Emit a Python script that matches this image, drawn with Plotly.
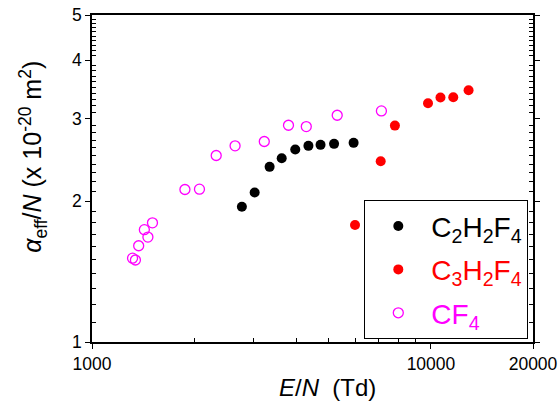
import plotly.graph_objects as go

# C2H2F4 (black filled)
c2_x = [2768, 3019, 3342, 3628, 3978, 4350, 4723, 5178, 5913]
c2_y = [1.945, 2.087, 2.368, 2.471, 2.579, 2.626, 2.639, 2.652, 2.665]

# C3H2F4 (red filled)
c3_x = [5970, 7108, 7828, 9801, 10667, 11636, 12912]
c3_y = [1.778, 2.435, 2.901, 3.239, 3.331, 3.336, 3.452]

# CF4 (magenta open)
cf_x = [1317, 1343, 1373, 1427, 1462, 1508, 1880, 2075, 2325, 2643, 3223, 3799, 4287, 5290, 7142]
cf_y = [1.511, 1.497, 1.606, 1.738, 1.676, 1.798, 2.118, 2.122, 2.504, 2.626, 2.683, 2.906, 2.887, 3.053, 3.119]

x_ticks = [1000, 10000, 20000]
x_minor = [2000, 3000, 4000, 5000, 6000, 7000, 8000, 9000]
y_ticks = [1, 2, 3, 4, 5]
y_minor = [1.1, 1.2, 1.3, 1.4, 1.5, 1.6, 1.7, 1.8, 1.9,
           2.1, 2.2, 2.3, 2.4, 2.5, 2.6, 2.7, 2.8, 2.9,
           3.1, 3.2, 3.3, 3.4, 3.5, 3.6, 3.7, 3.8, 3.9,
           4.1, 4.2, 4.3, 4.4, 4.5, 4.6, 4.7, 4.8, 4.9]

x_title = "<i>E</i>/<i>N</i>\u00a0 (Td)"
y_title = "<i>α</i><sub>eff</sub>/<i>N</i> (x 10<sup>-20</sup> m<sup>2</sup>)"

FONT = "Liberation Sans, Arial, sans-serif"

fig = go.Figure()
fig.add_trace(go.Scatter(
    x=c2_x, y=c2_y, mode="markers", legendgroup="a",
    name="C<sub>2</sub>H<sub>2</sub>F<sub>4</sub>",
    marker=dict(color="black", size=10, symbol="circle"),
))
fig.add_trace(go.Scatter(
    x=c3_x, y=c3_y, mode="markers", legendgroup="b",
    name='<span style="color:#ff0000">C<sub>3</sub>H<sub>2</sub>F<sub>4</sub></span>',
    marker=dict(color="#ff0000", size=10, symbol="circle"),
))
fig.add_trace(go.Scatter(
    x=cf_x, y=cf_y, mode="markers", legendgroup="c",
    name='<span style="color:#ff00ff">CF<sub>4</sub></span>',
    marker=dict(color="#ff00ff", size=10, symbol="circle-open", line=dict(width=1.3)),
))

axis_common = dict(
    type="log", showgrid=False, zeroline=False, automargin=False,
    showline=True, linecolor="black", linewidth=1.5,
    tickcolor="black", tickwidth=1.2, ticklen=5, ticks="outside",
    tickfont=dict(family=FONT, size=17.5, color="black"),
    ticklabeloverflow="allow",
)

fig.update_xaxes(
    **axis_common,
    range=[2.99999, 4.301035], tickmode="array", tickvals=x_ticks,
    ticktext=[str(v) for v in x_ticks], mirror=True,
    minor=dict(tickmode="array", tickvals=x_minor, ticks="inside", ticklen=4,
               tickcolor="black", tickwidth=1.2),
)
fig.update_yaxes(
    **axis_common,
    range=[-0.00001, 0.698975], tickmode="array", tickvals=y_ticks,
    ticktext=[str(v) for v in y_ticks], mirror="ticks",
    minor=dict(tickmode="array", tickvals=y_minor, ticks="inside", ticklen=4,
               tickcolor="black", tickwidth=1.0),
)

fig.update_layout(
    width=558, height=403,
    margin=dict(l=92, r=25, t=15, b=61),
    paper_bgcolor="white", plot_bgcolor="white",
    showlegend=True,
    legend=dict(
        x=0.617, y=0.434, xanchor="left", yanchor="top",
        bgcolor="white", bordercolor="black", borderwidth=1.2,
        font=dict(family=FONT, size=28, color="black"),
        tracegroupgap=4, itemsizing="trace", itemwidth=56,
    ),
    annotations=[
        dict(text=x_title, xref="paper", yref="paper", x=0.533, y=-0.138,
             xanchor="center", yanchor="middle", showarrow=False,
             font=dict(family=FONT, size=24, color="black")),
        dict(text=y_title, xref="paper", yref="paper", x=-0.134, y=0.566,
             xanchor="center", yanchor="middle", showarrow=False, textangle=-90,
             font=dict(family=FONT, size=25, color="black")),
    ],
)

# Remove the default 8px page margin so the figure fills the window exactly.
fig.write_html(
    "out.html",
    config={"displayModeBar": False},
    post_script="document.body.style.margin='0';document.body.style.overflow='hidden';",
)
